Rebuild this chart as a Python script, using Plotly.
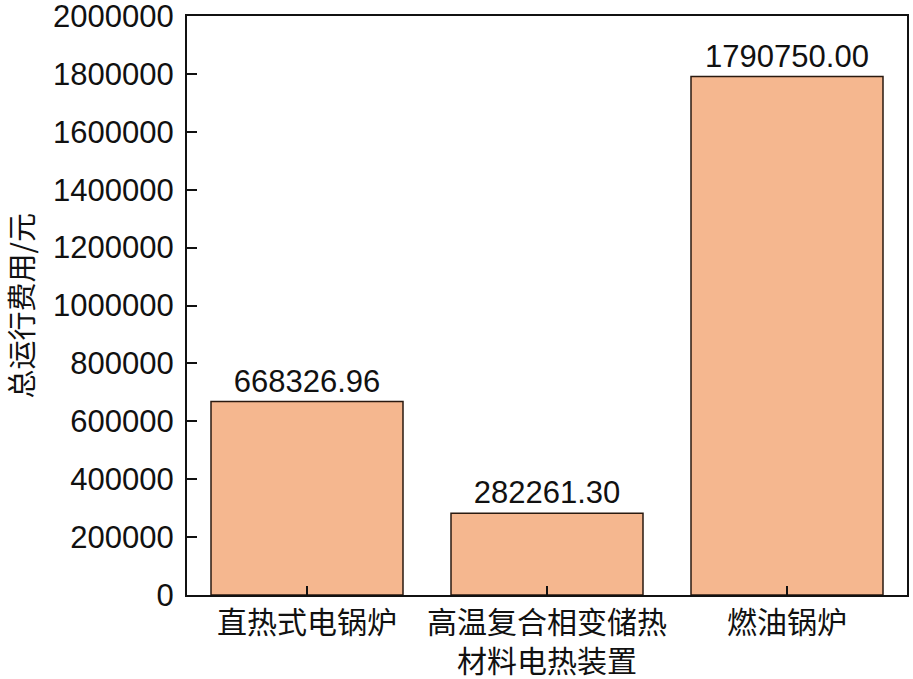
import plotly.graph_objects as go

categories = ["直热式电锅炉", "高温复合相变储热<br>材料电热装置", "燃油锅炉"]
values = [668326.96, 282261.30, 1790750.00]
labels = ["668326.96", "282261.30", "1790750.00"]
y_ticks = [0, 200000, 400000, 600000, 800000, 1000000, 1200000, 1400000, 1600000, 1800000, 2000000]

fig = go.Figure()
fig.add_trace(go.Bar(
    x=categories, y=values, text=labels, textposition="outside",
    width=0.8,
    marker=dict(color="#F5B78F", line=dict(color="#2a1a10", width=1.5)),
    textfont=dict(family="Liberation Sans, Arial", size=31, color="#111111"),
    cliponaxis=False,
))

fig.update_layout(
    width=913, height=679,
    margin=dict(l=187, r=6, t=16, b=84, autoexpand=False),
    paper_bgcolor="white", plot_bgcolor="white",
    showlegend=False,
    bargap=0.2,
)
fig.update_xaxes(
    range=[-0.5, 2.5], showline=True, linecolor="#111111", linewidth=2, mirror=True,
    ticks="inside", ticklen=9, tickwidth=1.5, tickcolor="#111111",
    tickfont=dict(family="Noto Sans CJK SC", size=30, color="#111111"),
    ticklabeloverflow="allow",
    showgrid=False, zeroline=False, automargin=False,
)
fig.update_yaxes(
    range=[0, 2000001], showline=True, linecolor="#111111", linewidth=2, mirror=True,
    ticks="inside", ticklen=10, tickwidth=1.5, tickcolor="#111111",
    tickvals=y_ticks, ticktext=[str(v) for v in y_ticks],
    tickfont=dict(family="Liberation Sans, Arial", size=31, color="#111111"),
    ticklabelstandoff=5, ticklabeloverflow="allow",
    showgrid=False, zeroline=False, automargin=False,
)
fig.add_annotation(
    text="总运行费用/元", xref="paper", yref="paper", x=-0.232, y=0.5,
    textangle=-90, showarrow=False, xanchor="center", yanchor="middle",
    font=dict(family="Noto Sans CJK SC", size=29, color="#111111"),
)

fig.write_html(
    "out.html",
    config={"displayModeBar": False},
    post_script="document.body.style.margin='0';document.body.style.overflow='hidden';",
)
